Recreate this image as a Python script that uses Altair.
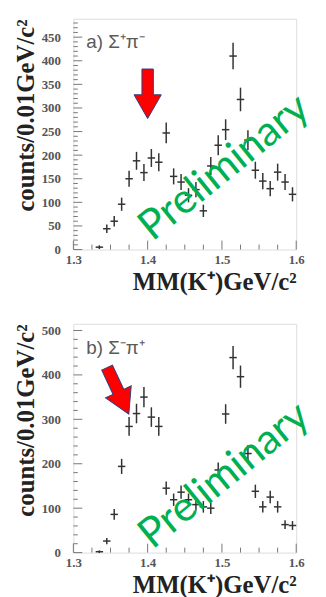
import altair as alt
import pandas as pd

# bin centres of missing mass MM(K+) [GeV/c^2]
mass = [1.335, 1.345, 1.355, 1.365, 1.375, 1.385, 1.395, 1.405, 1.415,
        1.425, 1.435, 1.445, 1.455, 1.465, 1.475, 1.485, 1.495, 1.505,
        1.515, 1.525, 1.535, 1.545, 1.555, 1.565, 1.575, 1.585, 1.595]
half_bin = 0.005

# panel a) Sigma+ pi-
counts_a = [5, 44, 60, 96, 150, 188, 163, 194, 185,
            247, 155, 143, 115, 127, 82, 177, 221, 254,
            410, 318, 232, 168, 145, 129, 164, 143, 117]
err_a = [4, 9, 11, 14, 17, 19, 18, 19, 19,
         22, 17, 17, 15, 16, 13, 19, 21, 22,
         28, 25, 21, 18, 17, 16, 18, 17, 15]

# panel b) Sigma- pi+
counts_b = [2, 26, 86, 194, 284, 313, 350, 305, 284,
            145, 119, 136, 119, 108, 103, 100, 186, 312,
            439, 396, 223, 138, 103, 125, 103, 63, 61]
err_b = [3, 7, 12, 17, 21, 22, 23, 22, 21,
         15, 14, 15, 14, 13, 13, 13, 17, 22,
         26, 25, 19, 15, 13, 14, 13, 10, 10]

x_labels = [1.3, 1.4, 1.5, 1.6]
y_labels_a = [0, 50, 100, 150, 200, 250, 300, 350, 400, 450]
y_labels_b = [0, 100, 200, 300, 400, 500]
x_minor = [1.325, 1.35, 1.375, 1.425, 1.45, 1.475, 1.525, 1.55, 1.575]
y_minor_a = [v for v in range(0, 490, 10) if v % 50]
y_minor_b = [v for v in range(0, 520, 20) if v % 100]

# annotations (data coordinates)
arrow_a = {"m": [1.400], "v": [330]}
arrow_b = {"m": [1.360], "v": [364]}
prelim_a = {"m": [1.503], "v": [174]}
prelim_b = {"m": [1.503], "v": [174]}

SERIF = "Liberation Serif"
ARROW = "M-0.23,-1 L0.23,-1 L0.23,0.04 L0.55,0.04 L0,1 L-0.55,0.04 L-0.23,0.04 Z"
W = 225


def panel(counts, errs, ymax, ylabels, yminor, label, arrow, arrow_angle,
          arrow_size, prelim, H):
    df = pd.DataFrame({"m": mass, "v": counts, "e": errs})
    df["lo"] = df["v"] - df["e"]
    df["hi"] = df["v"] + df["e"]
    df["ml"] = df["m"] - half_bin
    df["mh"] = df["m"] + half_bin

    xs = alt.Scale(domain=[1.3, 1.6], nice=False, zero=False)
    ys = alt.Scale(domain=[0, ymax], nice=False, zero=False)
    xaxis = alt.Axis(values=x_labels, format=".1f", ticks=False, domain=False,
                     grid=False, labelFont=SERIF, labelFontWeight="bold",
                     labelFontSize=13, labelColor="#555", labelPadding=4,
                     labelFlush=False,
                     title="MM(K⁺)GeV/c²", titleFont=SERIF,
                     titleFontWeight="bold", titleFontSize=25,
                     titleColor="#222", titleAnchor="end", titlePadding=3)
    yaxis = alt.Axis(values=ylabels, format="d", ticks=False, domain=False,
                     grid=False, labelFont=SERIF, labelFontWeight="bold",
                     labelFontSize=13, labelColor="#555", labelPadding=13,
                     labelFlush=False,
                     title="counts/0.01GeV/c²", titleFont=SERIF,
                     titleFontWeight="bold", titleFontSize=25,
                     titleColor="#222", titleAnchor="end", titlePadding=3)
    X = lambda f: alt.X(f, type="quantitative", scale=xs, axis=xaxis)
    Y = lambda f: alt.Y(f, type="quantitative", scale=ys, axis=yaxis)

    base = alt.Chart(df)
    vbar = base.mark_rule(color="#333", strokeWidth=1.5).encode(
        x=X("m"), y=Y("lo"), y2="hi")
    hbar = base.mark_rule(color="#333", strokeWidth=1.5).encode(
        x=X("ml"), x2="mh", y=Y("v"))

    ymaj = alt.Chart(pd.DataFrame({"t": ylabels})).mark_rule(
        color="#777", strokeWidth=1).encode(
        y=Y("t"), x=alt.value(0), x2=alt.value(9))
    ymin = alt.Chart(pd.DataFrame({"t": yminor})).mark_rule(
        color="#777", strokeWidth=1).encode(
        y=Y("t"), x=alt.value(0), x2=alt.value(4.5))
    xmaj = alt.Chart(pd.DataFrame({"t": x_labels})).mark_rule(
        color="#777", strokeWidth=1).encode(
        x=X("t"), y=alt.value(H), y2=alt.value(H - 9))
    xmin = alt.Chart(pd.DataFrame({"t": x_minor})).mark_rule(
        color="#777", strokeWidth=1).encode(
        x=X("t"), y=alt.value(H), y2=alt.value(H - 5))

    lab = alt.Chart(pd.DataFrame({"t": [label]})).mark_text(
        align="left", baseline="middle", font="Liberation Sans", fontSize=19,
        color="#5a5a5a").encode(x=alt.value(13), y=alt.value(24), text="t:N")

    arr = alt.Chart(pd.DataFrame(arrow)).mark_point(
        shape=ARROW, size=arrow_size, filled=True, fill="#ff0000",
        stroke="#2e4080", strokeWidth=1, opacity=1, angle=arrow_angle).encode(
        x=X("m"), y=Y("v"))

    pre = alt.Chart(pd.DataFrame(prelim)).mark_text(
        text="Preliminary", font="Lato", fontSize=42, angle=321,
        color="#00b050", align="center", baseline="middle").encode(
        x=X("m"), y=Y("v"))

    return alt.layer(ymin, ymaj, xmin, xmaj, vbar, hbar, lab, arr, pre).properties(
        width=W, height=H)


pa = panel(counts_a, err_a, 489, y_labels_a, y_minor_a, "a) Σ⁺π⁻",
           arrow_a, 0, 2500, prelim_a, 233)
pb = panel(counts_b, err_b, 515, y_labels_b, y_minor_b, "b) Σ⁻π⁺",
           arrow_b, 335, 2700, prelim_b, 231)

chart = alt.vconcat(pa, pb, spacing=75, bounds="flush").properties(
    padding={"left": 4, "top": 7, "right": 0, "bottom": 0}
).configure_view(stroke="#888", strokeWidth=1.5).configure(background="white")

chart.save("out.html", embed_options={"renderer": "svg", "actions": False})
